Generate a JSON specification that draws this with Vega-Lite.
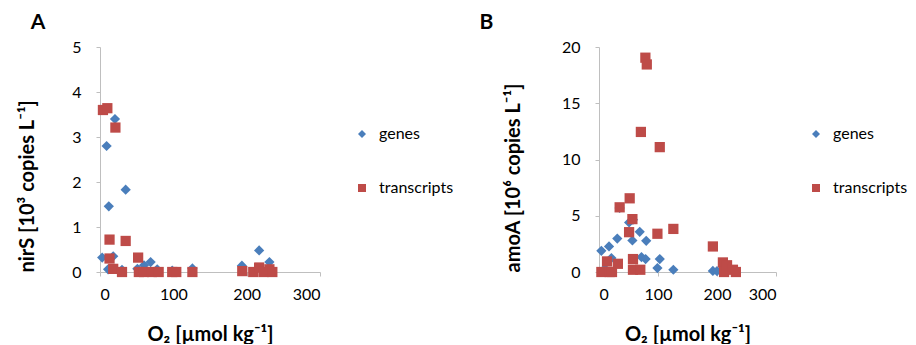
{
  "$schema": "https://vega.github.io/schema/vega-lite/v6.json",
  "padding": {"left": 17, "top": 12, "right": 0, "bottom": 0},
  "config": {
    "font": "Lato",
    "view": {"stroke": null},
    "axis": {
      "grid": false,
      "domainColor": "#BFBFBF",
      "tickColor": "#BFBFBF",
      "tickSize": 4,
      "labelFont": "Lato",
      "labelFontSize": 16,
      "labelColor": "#000000",
      "titleFont": "Lato",
      "titleFontSize": 20,
      "titleFontWeight": "bold",
      "titleColor": "#000000"
    },
    "legend": {
      "labelFont": "Lato",
      "labelFontSize": 16,
      "labelColor": "#000000",
      "symbolSize": 64,
      "symbolStrokeWidth": 0,
      "padding": 0,
      "rowPadding": 38,
      "labelOffset": 9
    },
    "title": {"font": "Lato", "fontSize": 21, "fontWeight": "bold", "color": "#000000"}
  },
  "datasets": {
    "nirS": [
      {"o2": 3, "value": 0.32, "type": "genes"},
      {"o2": 9, "value": 2.80, "type": "genes"},
      {"o2": 11, "value": 0.06, "type": "genes"},
      {"o2": 12, "value": 1.46, "type": "genes"},
      {"o2": 18, "value": 0.35, "type": "genes"},
      {"o2": 20.4, "value": 3.40, "type": "genes"},
      {"o2": 30, "value": 0.05, "type": "genes"},
      {"o2": 35, "value": 1.83, "type": "genes"},
      {"o2": 51, "value": 0.07, "type": "genes"},
      {"o2": 60, "value": 0.15, "type": "genes"},
      {"o2": 69, "value": 0.22, "type": "genes"},
      {"o2": 78, "value": 0.06, "type": "genes"},
      {"o2": 98.5, "value": 0.03, "type": "genes"},
      {"o2": 126, "value": 0.08, "type": "genes"},
      {"o2": 193.5, "value": 0.14, "type": "genes"},
      {"o2": 217, "value": 0.48, "type": "genes"},
      {"o2": 231, "value": 0.22, "type": "genes"},
      {"o2": 4, "value": 3.60, "type": "transcripts"},
      {"o2": 10, "value": 3.64, "type": "transcripts"},
      {"o2": 21, "value": 3.21, "type": "transcripts"},
      {"o2": 13, "value": 0.72, "type": "transcripts"},
      {"o2": 35, "value": 0.69, "type": "transcripts"},
      {"o2": 13, "value": 0.30, "type": "transcripts"},
      {"o2": 18, "value": 0.07, "type": "transcripts"},
      {"o2": 30, "value": 0, "type": "transcripts"},
      {"o2": 52, "value": 0.32, "type": "transcripts"},
      {"o2": 53, "value": 0, "type": "transcripts"},
      {"o2": 60, "value": 0, "type": "transcripts"},
      {"o2": 71, "value": 0, "type": "transcripts"},
      {"o2": 80, "value": 0, "type": "transcripts"},
      {"o2": 98.5, "value": 0, "type": "transcripts"},
      {"o2": 104, "value": 0, "type": "transcripts"},
      {"o2": 126, "value": 0, "type": "transcripts"},
      {"o2": 194, "value": 0.02, "type": "transcripts"},
      {"o2": 209, "value": 0, "type": "transcripts"},
      {"o2": 217, "value": 0.1, "type": "transcripts"},
      {"o2": 223, "value": 0, "type": "transcripts"},
      {"o2": 231, "value": 0.06, "type": "transcripts"},
      {"o2": 235, "value": 0, "type": "transcripts"}
    ],
    "amoA": [
      {"o2": 4, "value": 1.88, "type": "genes"},
      {"o2": 10, "value": 0.3, "type": "genes"},
      {"o2": 17, "value": 2.27, "type": "genes"},
      {"o2": 21, "value": 1.24, "type": "genes"},
      {"o2": 31, "value": 2.97, "type": "genes"},
      {"o2": 35, "value": 5.7, "type": "genes"},
      {"o2": 51, "value": 4.4, "type": "genes"},
      {"o2": 56.6, "value": 2.8, "type": "genes"},
      {"o2": 57.6, "value": 4.65, "type": "genes"},
      {"o2": 69, "value": 3.57, "type": "genes"},
      {"o2": 72, "value": 1.33, "type": "genes"},
      {"o2": 79, "value": 1.15, "type": "genes"},
      {"o2": 80, "value": 2.77, "type": "genes"},
      {"o2": 99, "value": 0.35, "type": "genes"},
      {"o2": 103, "value": 1.15, "type": "genes"},
      {"o2": 126, "value": 0.2, "type": "genes"},
      {"o2": 193, "value": 0.1, "type": "genes"},
      {"o2": 200, "value": 0.08, "type": "genes"},
      {"o2": 4, "value": 0, "type": "transcripts"},
      {"o2": 13.6, "value": 0.94, "type": "transcripts"},
      {"o2": 18, "value": 0, "type": "transcripts"},
      {"o2": 22, "value": 0, "type": "transcripts"},
      {"o2": 32, "value": 0.73, "type": "transcripts"},
      {"o2": 35, "value": 5.75, "type": "transcripts"},
      {"o2": 51, "value": 3.54, "type": "transcripts"},
      {"o2": 52, "value": 6.55, "type": "transcripts"},
      {"o2": 56.6, "value": 4.7, "type": "transcripts"},
      {"o2": 57.6, "value": 1.15, "type": "transcripts"},
      {"o2": 57.6, "value": 0.2, "type": "transcripts"},
      {"o2": 70, "value": 0.2, "type": "transcripts"},
      {"o2": 71, "value": 12.45, "type": "transcripts"},
      {"o2": 78.6, "value": 19.05, "type": "transcripts"},
      {"o2": 81, "value": 18.45, "type": "transcripts"},
      {"o2": 99, "value": 3.4, "type": "transcripts"},
      {"o2": 103, "value": 11.1, "type": "transcripts"},
      {"o2": 126, "value": 3.83, "type": "transcripts"},
      {"o2": 193, "value": 2.27, "type": "transcripts"},
      {"o2": 210, "value": 0.85, "type": "transcripts"},
      {"o2": 212, "value": 0, "type": "transcripts"},
      {"o2": 217, "value": 0.6, "type": "transcripts"},
      {"o2": 227, "value": 0.2, "type": "transcripts"},
      {"o2": 232, "value": 0, "type": "transcripts"}
    ]
  },
  "spacing": 25,
  "resolve": {
    "scale": {"color": "independent", "shape": "independent"},
    "legend": {"color": "independent", "shape": "independent"}
  },
  "hconcat": [
    {
      "title": {"text": "A", "anchor": "start", "frame": "bounds", "dx": 13, "offset": 6},
      "width": 220,
      "height": 225,
      "data": {"name": "nirS"},
      "mark": {"type": "point", "filled": true, "opacity": 1, "strokeWidth": 0, "size": 105},
      "encoding": {
        "x": {
          "field": "o2", "type": "quantitative",
          "scale": {"domain": [0, 300], "nice": false},
          "axis": {"values": [0, 100, 200, 300], "title": "O₂ [µmol kg⁻¹]", "labelPadding": 10, "titlePadding": 22}
        },
        "y": {
          "field": "value", "type": "quantitative",
          "scale": {"domain": [0, 5], "nice": false},
          "axis": {"values": [0, 1, 2, 3, 4, 5], "title": "nirS [10³ copies L⁻¹]", "labelPadding": 15, "titlePadding": 34, "titleAnchor": "start"}
        },
        "color": {
          "field": "type", "type": "nominal",
          "scale": {"domain": ["genes", "transcripts"], "range": ["#4A7EBB", "#BE4B48"]},
          "legend": {"title": null, "orient": "none", "legendX": 254, "legendY": 79}
        },
        "shape": {
          "field": "type", "type": "nominal",
          "scale": {"domain": ["genes", "transcripts"], "range": ["diamond", "square"]},
          "legend": {"title": null, "orient": "none", "legendX": 254, "legendY": 79}
        }
      }
    },
    {
      "title": {"text": "B", "anchor": "start", "frame": "bounds", "dx": -24, "offset": 6},
      "width": 177,
      "height": 225,
      "data": {"name": "amoA"},
      "mark": {"type": "point", "filled": true, "opacity": 1, "strokeWidth": 0, "size": 105},
      "encoding": {
        "x": {
          "field": "o2", "type": "quantitative",
          "scale": {"domain": [0, 300], "nice": false},
          "axis": {"values": [0, 100, 200, 300], "title": "O₂ [µmol kg⁻¹]", "labelPadding": 10, "titlePadding": 22}
        },
        "y": {
          "field": "value", "type": "quantitative",
          "scale": {"domain": [0, 20], "nice": false},
          "axis": {"values": [0, 5, 10, 15, 20], "title": "amoA [10⁶ copies L⁻¹]", "labelPadding": 15, "titlePadding": 38, "titleAnchor": "start"}
        },
        "color": {
          "field": "type", "type": "nominal",
          "scale": {"domain": ["genes", "transcripts"], "range": ["#4A7EBB", "#BE4B48"]},
          "legend": {"title": null, "orient": "none", "legendX": 209, "legendY": 79}
        },
        "shape": {
          "field": "type", "type": "nominal",
          "scale": {"domain": ["genes", "transcripts"], "range": ["diamond", "square"]},
          "legend": {"title": null, "orient": "none", "legendX": 209, "legendY": 79}
        }
      }
    }
  ]
}
